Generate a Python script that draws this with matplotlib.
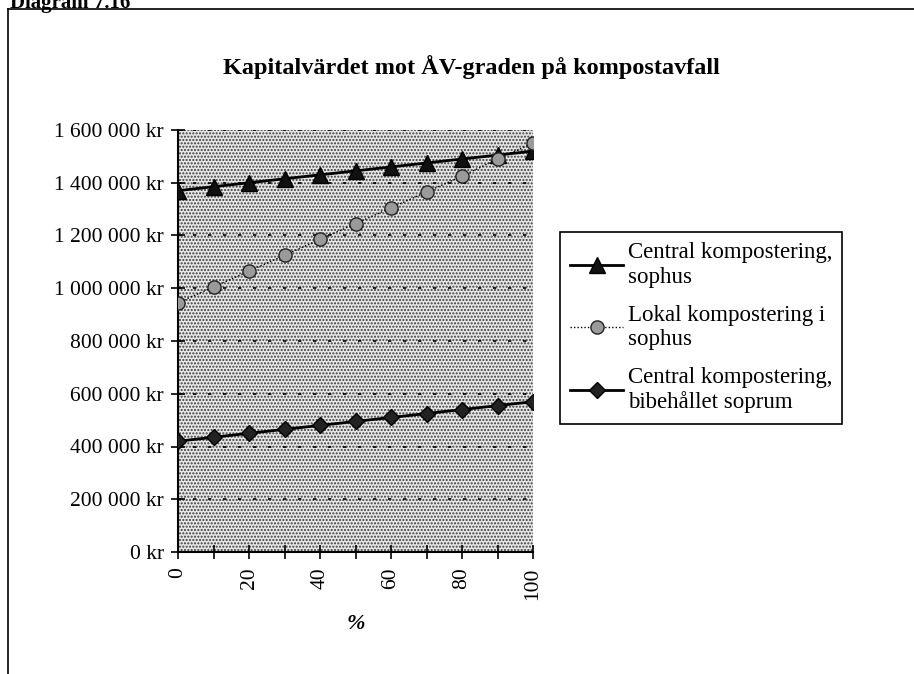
import matplotlib
matplotlib.use("Agg")
import matplotlib.pyplot as plt
from matplotlib.patches import Rectangle
from matplotlib.lines import Line2D
from matplotlib.ticker import FuncFormatter, MultipleLocator

# ---- data ----
x_pct = [0, 10, 20, 30, 40, 50, 60, 70, 80, 90, 100]
central_sophus = [1370000, 1385000, 1400000, 1415000, 1430000, 1445000,
                  1460000, 1475000, 1490000, 1505000, 1520000]
lokal_sophus = [945000, 1005000, 1065000, 1125000, 1185000, 1245000,
                1305000, 1365000, 1425000, 1490000, 1550000]
central_soprum = [420000, 435000, 450000, 465000, 480000, 495000,
                  510000, 525000, 540000, 555000, 570000]
series_labels = ["Central kompostering,\nsophus",
                 "Lokal kompostering i\nsophus",
                 "Central kompostering,\nbibehållet soprum"]
title = "Kapitalvärdet mot ÅV-graden på kompostavfall"
xlabel = "%"
header = "Diagram 7.16"

plt.rcParams['font.family'] = ['Liberation Serif', 'DejaVu Serif']
plt.rcParams['hatch.color'] = '#3a3a3a'
plt.rcParams['hatch.linewidth'] = 1.0

W, H = 914, 674
fig = plt.figure(figsize=(W / 100, H / 100), dpi=100)
fig.patch.set_facecolor('white')

# outer frame
fig.add_artist(Line2D([8 / W, 1.0], [1 - 9 / H, 1 - 9 / H], color='black', lw=1.2))
fig.add_artist(Line2D([8 / W, 8 / W], [0, 1 - 9 / H], color='black', lw=1.2))
fig.text(10 / W, 1 - 8 / H, header, fontsize=15, fontweight='bold', va='baseline', ha='left')

ax = fig.add_axes([178 / W, 1 - 552 / H, (533 - 178) / W, (552 - 130) / H])
ax.set_facecolor('#e6e6e6')
bg = Rectangle((0, 0), 1, 1, transform=ax.transAxes, facecolor='#e6e6e6',
               edgecolor='#3a3a3a', hatch='.....', lw=0, zorder=0)
ax.add_patch(bg)

ax.plot(x_pct, central_sophus, color='black', lw=2, marker='^', markersize=11,
        markerfacecolor='#111111', markeredgecolor='black', label=series_labels[0], zorder=4)
ax.plot(x_pct, lokal_sophus, color='black', lw=1, linestyle=(0, (1, 1.5)), marker='o',
        markersize=9.5, markerfacecolor='#9a9a9a', markeredgecolor='#222222',
        markeredgewidth=1.0, label=series_labels[1], zorder=4)
ax.plot(x_pct, central_soprum, color='black', lw=2, marker='D', markersize=8,
        markerfacecolor='#222222', markeredgecolor='black', label=series_labels[2], zorder=4)

ax.set_xlim(0, 100)
ax.set_ylim(0, 1600000)
ax.yaxis.set_major_locator(MultipleLocator(200000))
ax.xaxis.set_major_locator(MultipleLocator(10))


def yfmt(v, pos):
    s = f"{int(round(v)):,}".replace(",", " ")
    return s + " kr"


def xfmt(v, pos):
    iv = int(round(v))
    return str(iv) if iv % 20 == 0 else ""


ax.yaxis.set_major_formatter(FuncFormatter(yfmt))
ax.xaxis.set_major_formatter(FuncFormatter(xfmt))
ax.tick_params(axis='both', direction='inout', length=10, width=1.2, colors='black',
               labelsize=15.5)
ax.tick_params(axis='x', labelrotation=90, pad=6)
ax.tick_params(axis='y', pad=5)
ax.yaxis.grid(True, color='black', linestyle=(0, (2, 7)), lw=1.2)
ax.set_axisbelow(False)
for gl in ax.get_ygridlines():
    gl.set_zorder(2)

for side in ['top', 'right']:
    ax.spines[side].set_visible(False)
ax.spines['left'].set_linewidth(1.5)
ax.spines['bottom'].set_linewidth(1.5)

ax.set_xlabel(xlabel, fontsize=16, fontstyle='italic', fontweight='bold', labelpad=10)
fig.text(0.5 * (215 + 727) / W, 1 - 67 / H, title, fontsize=17.5, fontweight='bold',
         ha='center', va='center')

leg = ax.legend(loc='upper left', bbox_to_anchor=(560 / W, 1 - 232 / H),
                bbox_transform=fig.transFigure, fontsize=16.5, frameon=True,
                fancybox=False, edgecolor='black', framealpha=1, handlelength=2.3,
                handletextpad=0.2, borderpad=0.45, labelspacing=0.75, borderaxespad=0)
leg.get_frame().set_linewidth(1.2)

fig.savefig("out.png", dpi=100)
